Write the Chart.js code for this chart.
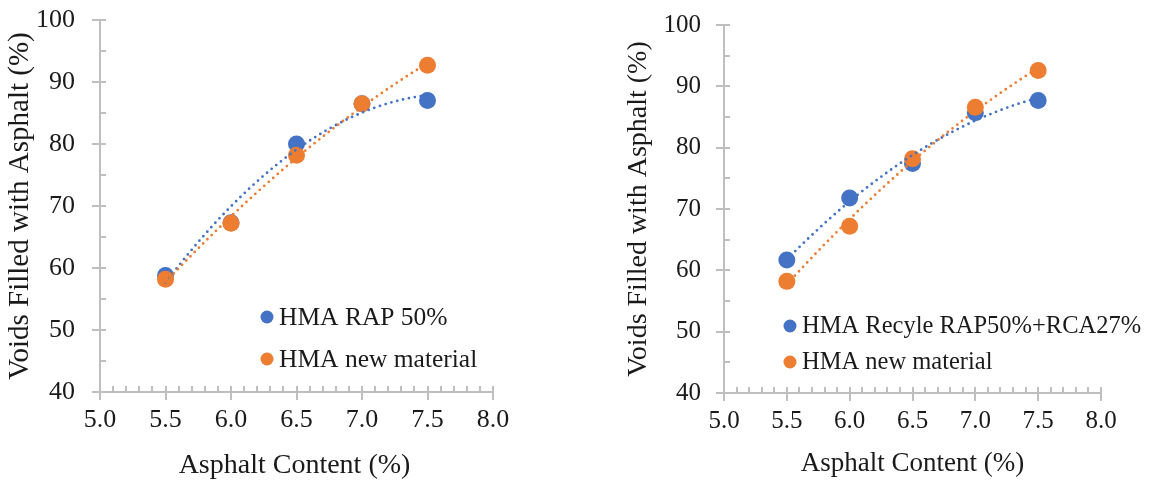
<!DOCTYPE html>
<html>
<head>
<meta charset="utf-8">
<script src="https://cdn.jsdelivr.net/npm/chart.js@4.4.1/dist/chart.umd.min.js"></script>
<style>
  html, body { margin: 0; padding: 0; background: #fff; width: 1153px; height: 484px; overflow: hidden; }
  .panel { position: absolute; top: 0; height: 484px; }
  #left  { left: 0;     width: 590px; }
  #right { left: 590px; width: 563px; }
</style>
</head>
<body>
<div class="panel" id="left"><canvas id="vfaRap" width="590" height="484"></canvas></div>
<div class="panel" id="right"><canvas id="vfaRecycled" width="563" height="484"></canvas></div>
<script>
// Asphalt content (%) of the mixes
const asphaltContent = [5.5, 6.0, 6.5, 7.0, 7.5];

// Voids filled with asphalt (%)
const vfaRap50        = [58.8, 67.3, 80.0, 86.5, 87.0];
const vfaNewMaterialA = [58.2, 67.2, 78.2, 86.5, 92.7];
const vfaRapRca       = [61.7, 71.8, 77.4, 85.7, 87.7];
const vfaNewMaterialB = [58.2, 67.2, 78.2, 86.6, 92.6];

// Axis tick labels
const xTickLabels = ['5.0', '5.5', '6.0', '6.5', '7.0', '7.5', '8.0'];
const yTickLabels = ['40', '50', '60', '70', '80', '90', '100'];

const BLUE = '#4472C4';
const ORANGE = '#ED7D31';
const AXIS_GREY = '#BFBFBF';
const TEXT = '#1a1a1a';
const SERIF = "'Liberation Serif', 'Times New Roman', serif";

// Least-squares quadratic (order-2 polynomial trendline)
function quadFit(xs, ys) {
  const n = xs.length;
  const mx = xs.reduce((s, v) => s + v, 0) / n;
  let s2 = 0, s3 = 0, s4 = 0, t0 = 0, t1 = 0, t2 = 0;
  xs.forEach((xv, i) => {
    const u = xv - mx, y = ys[i];
    s2 += u * u; s3 += u * u * u; s4 += u * u * u * u;
    t0 += y; t1 += u * y; t2 += u * u * y;
  });
  // normal equations in the centred variable u = x - mx
  const A = [[n, 0, s2], [0, s2, s3], [s2, s3, s4]];
  const b = [t0, t1, t2];
  for (let c = 0; c < 3; c++) {
    let p = c;
    for (let r = c + 1; r < 3; r++) if (Math.abs(A[r][c]) > Math.abs(A[p][c])) p = r;
    [A[c], A[p]] = [A[p], A[c]]; [b[c], b[p]] = [b[p], b[c]];
    for (let r = 0; r < 3; r++) {
      if (r === c) continue;
      const f = A[r][c] / A[c][c];
      for (let k = c; k < 3; k++) A[r][k] -= f * A[c][k];
      b[r] -= f * b[c];
    }
  }
  const k = b.map((v, i) => v / A[i][i]);
  return x => { const u = x - mx; return k[0] + k[1] * u + k[2] * u * u; };
}

// Axis frame, Excel-style tick marks, dotted trendlines, legend and axis titles
const excelLook = {
  id: 'excelLook',
  beforeDatasetsDraw(chart) {
    const { ctx, chartArea: a, scales: { x, y } } = chart;
    ctx.save();
    ctx.strokeStyle = AXIS_GREY;
    ctx.lineWidth = 2;
    ctx.beginPath();
    ctx.moveTo(a.left, a.top);
    ctx.lineTo(a.left, a.bottom);
    ctx.lineTo(a.right, a.bottom);
    for (let v = y.min; v <= y.max + 1e-9; v += 5) {
      const py = Math.round(y.getPixelForValue(v));
      const major = Math.round(v) % 10 === 0;
      ctx.moveTo(a.left - (major ? 8 : 0), py);
      ctx.lineTo(a.left + 6, py);
    }
    for (let i = 0; i <= 30; i++) {
      const px = Math.round(x.getPixelForValue(x.min + i * 0.1));
      const major = i % 5 === 0;
      ctx.moveTo(px, a.bottom + (major ? 8 : 0));
      ctx.lineTo(px, a.bottom - 6);
    }
    ctx.stroke();
    ctx.restore();
  },
  afterDatasetsDraw(chart) {
    const { ctx, scales: { x, y } } = chart;
    ctx.save();
    ctx.lineWidth = 2.8;
    ctx.lineCap = 'round';
    ctx.setLineDash([0, 6]);
    chart.data.datasets.forEach(ds => {
      const xs = ds.data.map(p => p.x), ys = ds.data.map(p => p.y);
      const f = quadFit(xs, ys);
      const p0 = x.getPixelForValue(Math.min(...xs));
      const p1 = x.getPixelForValue(Math.max(...xs));
      ctx.strokeStyle = ds.backgroundColor;
      ctx.beginPath();
      for (let px = p0; px <= p1 + 0.01; px += 1) {
        const py = y.getPixelForValue(f(x.getValueForPixel(px)));
        if (px === p0) ctx.moveTo(px, py); else ctx.lineTo(px, py);
      }
      ctx.stroke();
    });
    ctx.restore();
  },
  afterDraw(chart, args, o) {
    const { ctx, chartArea: a } = chart;
    ctx.save();
    ctx.fillStyle = TEXT;
    // axis titles
    ctx.textAlign = 'center';
    ctx.textBaseline = 'middle';
    ctx.font = `${o.xTitle.size}px ${SERIF}`;
    ctx.fillText(o.xTitle.text, (a.left + a.right) / 2 + o.xTitle.dx, o.xTitle.y);
    ctx.translate(o.yTitle.x, (a.top + a.bottom) / 2 + o.yTitle.dy);
    ctx.rotate(-Math.PI / 2);
    ctx.font = `${o.yTitle.size}px ${SERIF}`;
    ctx.fillText(o.yTitle.text, 0, 0);
    ctx.restore();
    // legend
    ctx.save();
    ctx.font = `${o.legend.size}px ${SERIF}`;
    ctx.textAlign = 'left';
    ctx.textBaseline = 'middle';
    chart.data.datasets.forEach((ds, i) => {
      const cy = o.legend.y + i * o.legend.gap;
      ctx.fillStyle = ds.backgroundColor;
      ctx.beginPath();
      ctx.arc(o.legend.x, cy, 6.5, 0, Math.PI * 2);
      ctx.fill();
      ctx.fillStyle = TEXT;
      ctx.fillText(ds.label, o.legend.x + 12, cy + 1);
    });
    ctx.restore();
  }
};

function points(values) {
  return asphaltContent.map((x, i) => ({ x, y: values[i] }));
}

function makeChart(id, cfg) {
  return new Chart(document.getElementById(id), {
    type: 'scatter',
    data: {
      datasets: cfg.series.map((s, i) => ({
        label: s.label,
        data: points(s.values),
        backgroundColor: s.color,
        borderColor: s.color,
        pointRadius: 8.5,
        pointHoverRadius: 8.5,
        pointBorderWidth: 0,
        showLine: false,
        order: cfg.series.length - i
      }))
    },
    options: {
      responsive: false,
      devicePixelRatio: 1,
      animation: false,
      events: [],
      layout: { padding: cfg.padding, autoPadding: false },
      plugins: {
        legend: { display: false },
        tooltip: { enabled: false },
        excelLook: cfg.look
      },
      scales: {
        x: {
          type: 'linear',
          min: 5, max: 8,
          afterBuildTicks: s => { s.ticks = xTickLabels.map(t => ({ value: parseFloat(t) })); },
          ticks: {
            callback: v => xTickLabels.find(t => parseFloat(t) === v),
            font: { family: SERIF, size: cfg.tickSize },
            color: TEXT,
            padding: cfg.xTickPad,
            maxRotation: 0
          },
          grid: { display: false, drawTicks: false },
          border: { display: false },
          afterFit: s => {
            s.height = cfg.xHeight;
            s.paddingLeft = 0; s.paddingRight = 0;
          }
        },
        y: {
          type: 'linear',
          min: 40, max: 100,
          afterBuildTicks: s => { s.ticks = yTickLabels.map(t => ({ value: parseFloat(t) })); },
          ticks: {
            callback: v => yTickLabels.find(t => parseFloat(t) === v),
            font: { family: SERIF, size: cfg.tickSize },
            color: TEXT,
            padding: cfg.yTickPad
          },
          grid: { display: false, drawTicks: false },
          border: { display: false },
          afterFit: s => {
            s.width = cfg.yWidth;
            s.paddingTop = 0; s.paddingBottom = 0;
          }
        }
      }
    },
    plugins: [excelLook]
  });
}

makeChart('vfaRap', {
  series: [
    { label: 'HMA RAP 50%', values: vfaRap50, color: BLUE },
    { label: 'HMA new material', values: vfaNewMaterialA, color: ORANGE }
  ],
  padding: { top: 20, left: 0, right: 97, bottom: 0 },
  yWidth: 100, xHeight: 92,
  tickSize: 26, xTickPad: 13, yTickPad: 25,
  look: {
    xTitle: { text: 'Asphalt Content (%)', size: 28, y: 466, dx: -2 },
    yTitle: { text: 'Voids Filled with Asphalt (%)', size: 29, x: 20, dy: 0 },
    legend: { x: 267, y: 317, gap: 42, size: 25.5 }
  }
});

makeChart('vfaRecycled', {
  series: [
    { label: 'HMA Recyle RAP50%+RCA27%', values: vfaRapRca, color: BLUE },
    { label: 'HMA new material', values: vfaNewMaterialB, color: ORANGE }
  ],
  padding: { top: 25, left: 0, right: 52, bottom: 0 },
  yWidth: 134, xHeight: 91,
  tickSize: 25, xTickPad: 13, yTickPad: 23,
  look: {
    xTitle: { text: 'Asphalt Content (%)', size: 27, y: 464, dx: 0 },
    yTitle: { text: 'Voids Filled with Asphalt (%)', size: 28, x: 49, dy: 0 },
    legend: { x: 200, y: 326, gap: 36, size: 24.5 }
  }
});
</script>
</body>
</html>
